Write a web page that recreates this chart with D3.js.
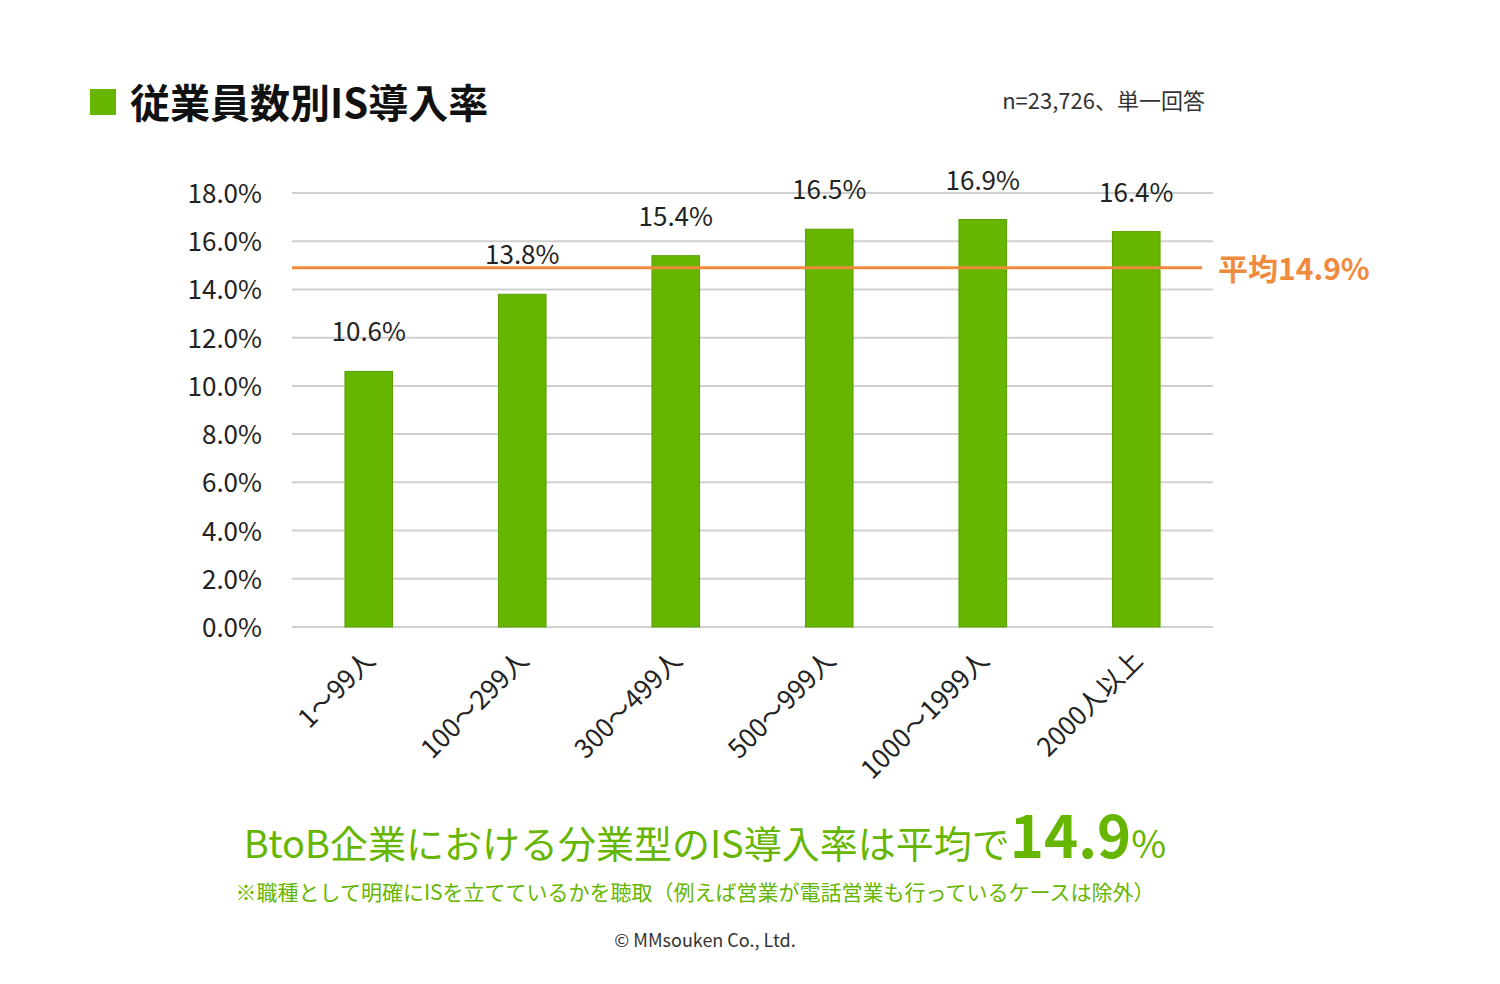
<!DOCTYPE html><html><head><meta charset="utf-8">
<script src="https://cdn.jsdelivr.net/npm/d3@7"></script>
<style>body{margin:0;background:#fff}svg{font-family:"Noto Sans CJK JP","Noto Sans",sans-serif}</style></head><body>
<svg id="c" width="1500" height="984"></svg>
<script>
const categories=["1～99人","100～299人","300～499人","500～999人","1000～1999人","2000人以上"];
const values=[10.6,13.8,15.4,16.5,16.9,16.4];
const average=14.9;
const yTicks=[0,2,4,6,8,10,12,14,16,18];
const svg=d3.select("#c");
const x=d3.scaleBand().domain(categories).range([292,1213]).paddingInner(0.69).paddingOuter(0.345);
const y=d3.scaleLinear().domain([0,18]).range([627,193]);
const green="#66b600";
svg.append("rect").attr("x",90).attr("y",89).attr("width",26).attr("height",26).attr("fill",green);
svg.append("text").attr("x",130).attr("y",118).attr("font-size",40).attr("font-weight",700).attr("fill","#111").text("従業員数別IS導入率");
svg.append("text").attr("x",1205).attr("y",109).attr("text-anchor","end").attr("font-size",22).attr("fill","#333").text("n=23,726、単一回答");
yTicks.forEach(t=>{
 svg.append("line").attr("x1",292).attr("x2",1213).attr("y1",y(t)).attr("y2",y(t)).attr("stroke","#d0d0d0").attr("stroke-width",2);
 svg.append("text").attr("x",262).attr("y",y(t)+10).attr("text-anchor","end").attr("font-size",26).attr("fill","#222").text(t.toFixed(1)+"%");
});
svg.selectAll(".b").data(values).enter().append("rect").attr("x",(d,i)=>x(categories[i])).attr("width",x.bandwidth())
 .attr("y",d=>y(d)).attr("height",d=>y(0)-y(d)).attr("fill",green).attr("stroke","#5aa000");
svg.selectAll(".v").data(values).enter().append("text").attr("x",(d,i)=>x(categories[i])+x.bandwidth()/2).attr("y",d=>y(d)-30)
 .attr("text-anchor","middle").attr("font-size",26).attr("fill","#222").text(d=>d.toFixed(1)+"%");
svg.append("line").attr("x1",292).attr("x2",1202).attr("y1",y(average)).attr("y2",y(average)).attr("stroke","#f08a3c").attr("stroke-width",3);
svg.append("text").attr("x",1218).attr("y",y(average)+12).attr("font-size",30).attr("font-weight",700).attr("fill","#f08a3c").text("平均"+average+"%");
categories.forEach(c=>{
 const cx=x(c)+x.bandwidth()/2+8;
 svg.append("text").attr("transform",`translate(${cx},662) rotate(-45)`).attr("text-anchor","end").attr("font-size",26).attr("fill","#222").text(c);
});
const t=svg.append("text").attr("x",705).attr("y",858).attr("text-anchor","middle").attr("fill",green).attr("font-size",38);
t.append("tspan").text("BtoB企業における分業型のIS導入率は平均で");
t.append("tspan").attr("font-size",58).attr("font-weight",700).text("14.9");
t.append("tspan").attr("font-size",38).text("%");
svg.append("text").attr("x",695).attr("y",900).attr("text-anchor","middle").attr("fill",green).attr("font-size",21).text("※職種として明確にISを立てているかを聴取（例えば営業が電話営業も行っているケースは除外）");
svg.append("text").attr("x",705).attr("y",947).attr("text-anchor","middle").attr("fill","#333").attr("font-size",18).text("© MMsouken Co., Ltd.");
</script></body></html>
